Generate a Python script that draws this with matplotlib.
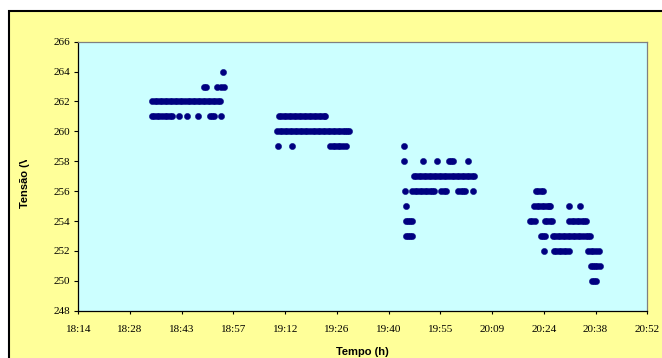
import matplotlib
matplotlib.use("Agg")
import matplotlib.pyplot as plt
from matplotlib.patches import Rectangle
from matplotlib.transforms import Bbox

# ---- data: time in minutes after midnight for each voltage level ----
t_264 = [1134.6]
t_263 = [1129.3, 1130.0, 1133.0, 1134.0, 1134.9]
t_262 = [1115.0, 1115.7, 1116.4, 1117.1, 1117.8, 1118.5, 1119.2, 1119.9, 1120.6,
         1121.3, 1122.0, 1122.7, 1123.4, 1124.1, 1124.8, 1125.5, 1126.2, 1126.9,
         1127.6, 1128.3, 1129.0, 1129.7, 1130.4, 1131.1, 1131.8, 1132.5, 1133.2,
         1133.9]
t_261 = [1114.9, 1115.6, 1116.3, 1117.0, 1117.7, 1118.4, 1119.1, 1119.8, 1120.5,
         1122.4, 1124.7, 1127.6, 1131.0, 1131.6, 1132.1, 1134.1,
         1150.2, 1150.9, 1151.6, 1152.3, 1153.0, 1153.7, 1154.4, 1155.1, 1155.8,
         1156.5, 1157.2, 1157.9, 1158.6, 1159.3, 1160.0, 1160.7, 1161.4, 1162.1,
         1162.7, 1163.2]
t_260 = [1149.8, 1150.5, 1151.2, 1151.9, 1152.6, 1153.3, 1154.0, 1154.7, 1155.4,
         1156.1, 1156.8, 1157.5, 1158.2, 1158.9, 1159.6, 1160.3, 1161.0, 1161.7,
         1162.4, 1163.1, 1163.8, 1164.5, 1165.2, 1165.9, 1166.6, 1167.3, 1168.0,
         1168.7, 1169.3, 1169.8]
t_259 = [1150.1, 1154.0, 1164.5, 1165.2, 1165.9, 1166.6, 1167.3, 1168.0, 1168.9,
         1185.1]
t_258 = [1185.1, 1190.4, 1194.2, 1197.6, 1198.2, 1198.7, 1203.0]
t_257 = [1187.8, 1188.5, 1189.2, 1189.9, 1190.6, 1191.3, 1192.0, 1192.7, 1193.4,
         1194.1, 1194.8, 1195.5, 1196.2, 1196.9, 1197.6, 1198.3, 1199.0, 1199.7,
         1200.4, 1201.1, 1201.8, 1202.5, 1203.2, 1203.9, 1204.6]
t_256 = [1185.3, 1187.3, 1188.0, 1188.7, 1189.4, 1190.1, 1190.8, 1191.5, 1192.2,
         1192.8, 1193.4, 1195.4, 1196.1, 1196.8, 1200.1, 1200.8, 1201.4, 1202.0,
         1204.4,
         1221.8, 1222.5, 1223.2, 1223.8]
t_255 = [1185.5, 1221.3, 1222.0, 1222.7, 1223.4, 1224.1, 1224.8, 1225.3, 1225.7,
         1231.1, 1234.1]
t_254 = [1185.6, 1186.2, 1186.8, 1187.3, 1220.1, 1220.8, 1221.5, 1224.4, 1225.0,
         1225.7, 1226.3, 1231.0, 1231.7, 1232.4, 1233.1, 1233.8, 1234.5, 1235.2,
         1235.7]
t_253 = [1185.6, 1186.2, 1186.8, 1187.3, 1223.2, 1223.8, 1224.3, 1226.5, 1227.2,
         1227.9, 1228.6, 1229.3, 1230.0, 1230.7, 1231.4, 1232.1, 1232.8, 1233.5,
         1234.2, 1234.9, 1235.6, 1236.3, 1236.8]
t_252 = [1224.0, 1226.8, 1227.5, 1228.2, 1228.9, 1229.6, 1230.3, 1231.0, 1236.3,
         1237.0, 1237.7, 1238.4, 1239.3]
t_251 = [1237.1, 1237.7, 1238.3, 1238.9, 1239.6]
t_250 = [1237.4, 1238.0, 1238.5]

levels = [264, 263, 262, 261, 260, 259, 258, 257, 256, 255, 254, 253, 252, 251, 250]
level_times = [t_264, t_263, t_262, t_261, t_260, t_259, t_258, t_257, t_256,
               t_255, t_254, t_253, t_252, t_251, t_250]

x_tick_days = [0.76, 0.77, 0.78, 0.79, 0.80, 0.81, 0.82, 0.83, 0.84, 0.85, 0.86, 0.87]
x_tick_labels = ["18:14", "18:28", "18:43", "18:57", "19:12", "19:26", "19:40",
                 "19:55", "20:09", "20:24", "20:38", "20:52"]
y_ticks = [248, 250, 252, 254, 256, 258, 260, 262, 264, 266]

# ---- figure ----
W, H = 662, 358
fig = plt.figure(figsize=(W / 100, H / 100), dpi=100, facecolor="white")

# outer chart area (yellow) with black border on left/top
fig.patches.append(Rectangle((8.5 / W, -0.2), 1.2, (H - 11) / H + 0.2,
                             transform=fig.transFigure, facecolor="#FFFF99",
                             edgecolor="black", linewidth=1.5, zorder=-5))

ax = fig.add_axes([78.3 / W, (H - 310.7) / H, (647.3 - 78.3) / W, (310.7 - 41.7) / H])
ax.set_zorder(1)
ax.set_facecolor("#CCFFFF")

tempo = []
tensao = []
for v, ts in zip(levels, level_times):
    tempo.extend(ts)
    tensao.extend([v] * len(ts))
ax.plot(tempo, tensao, linestyle="none", marker="o", markersize=4.5,
        markerfacecolor="#000080", markeredgecolor="#000080", markeredgewidth=0.3)

ax.set_xlim(x_tick_days[0] * 1440, x_tick_days[-1] * 1440)
ax.set_ylim(248, 266)
ax.set_xticks([d * 1440 for d in x_tick_days])
ax.set_xticklabels(x_tick_labels)
ax.set_yticks(y_ticks)
ax.set_yticklabels([str(v) for v in y_ticks])

for lab in ax.get_xticklabels() + ax.get_yticklabels():
    lab.set_fontfamily("Liberation Serif")
    lab.set_fontsize(8)
ax.tick_params(axis="x", direction="out", length=2.5, width=0.8, pad=7.5, colors="black")
ax.tick_params(axis="y", direction="out", length=3, width=0.8, pad=3, colors="black")

for s in ["left", "bottom"]:
    ax.spines[s].set_color("black")
    ax.spines[s].set_linewidth(0.9)
for s in ["top", "right"]:
    ax.spines[s].set_color("#808080")
    ax.spines[s].set_linewidth(0.9)

fig.text(362 / W, (H - 352) / H, "Tempo (h)", ha="center", va="center",
         fontfamily="Liberation Sans", fontweight="bold", fontsize=8, zorder=2)

ylab = fig.text(25 / W, (H - 207.5) / H, "Tensão (V)", rotation=90, ha="center",
                va="bottom", fontfamily="Liberation Sans", fontweight="bold",
                fontsize=8, zorder=2)
ylab.set_clip_on(True)
ylab.set_clip_box(Bbox.from_extents(0, 0, 60, H - 160))

fig.savefig("out.png", dpi=100, facecolor="white")
